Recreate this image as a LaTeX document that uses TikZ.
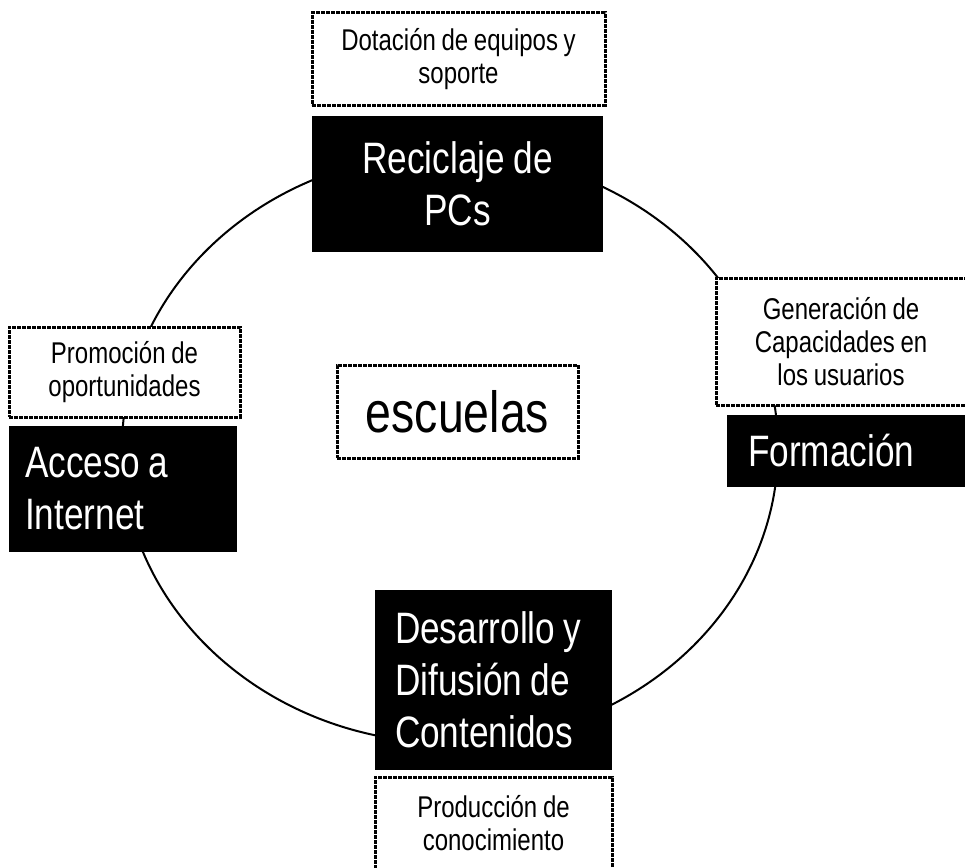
\documentclass[tikz,border=0pt]{standalone}
\usepackage{fontspec}
\setmainfont{Liberation Sans}[FakeStretch=0.8,WordSpace=0.85]
\begin{document}
\begin{tikzpicture}[x=1pt,y=-1pt,
  blackbox/.style={fill=black,text=white,inner ysep=0pt,inner xsep=0pt,
    font=\fontsize{44}{52}\selectfont},
  dotbox/.style={draw,fill=white,line width=3pt,dash pattern=on 4pt off 1pt,
    inner sep=0pt,align=center,font=\fontsize{30}{33}\selectfont}]
  \useasboundingbox (0,0) rectangle (965,867);
  \clip (0,0) rectangle (965,867);
  % the cycle
  \draw[line width=2pt] (450,448) ellipse [x radius=328, y radius=295];
  % top
  \node[dotbox, minimum width=293, minimum height=92] (dotacion) at (458.5,59)
    {Dotación de equipos y\\soporte};
  \node[blackbox, align=center, minimum width=291, minimum height=136] (reciclaje) at (457.5,184)
    {Reciclaje de\\PCs};
  % left
  \node[dotbox, minimum width=231, minimum height=90] (promocion) at (124.5,372)
    {Promoción de\\oportunidades};
  \node[blackbox, align=flush left, inner xsep=16, text width=196, minimum height=126] (acceso) at (123,489)
    {Acceso a\\Internet};
  % right
  \node[dotbox, minimum width=250, minimum height=127] (generacion) at (841,341.5)
    {Generación de\\Capacidades en\\los usuarios};
  \node[blackbox, align=flush left, inner xsep=21, text width=197, minimum height=72] (formacion) at (846.5,451)
    {Formación};
  % bottom
  \node[blackbox, align=flush left, inner xsep=20, text width=197, minimum height=180] (desarrollo) at (493.5,680)
    {Desarrollo y\\Difusión de\\Contenidos};
  \node[dotbox, minimum width=237, minimum height=93] (produccion) at (493.5,823.5)
    {Producción de\\conocimiento};
  % centre
  \node[dotbox, font=\fontsize{58}{60}\selectfont, minimum width=241, minimum height=93] (escuelas) at (457.5,411.5)
    {escuelas};
\end{tikzpicture}
\end{document}
